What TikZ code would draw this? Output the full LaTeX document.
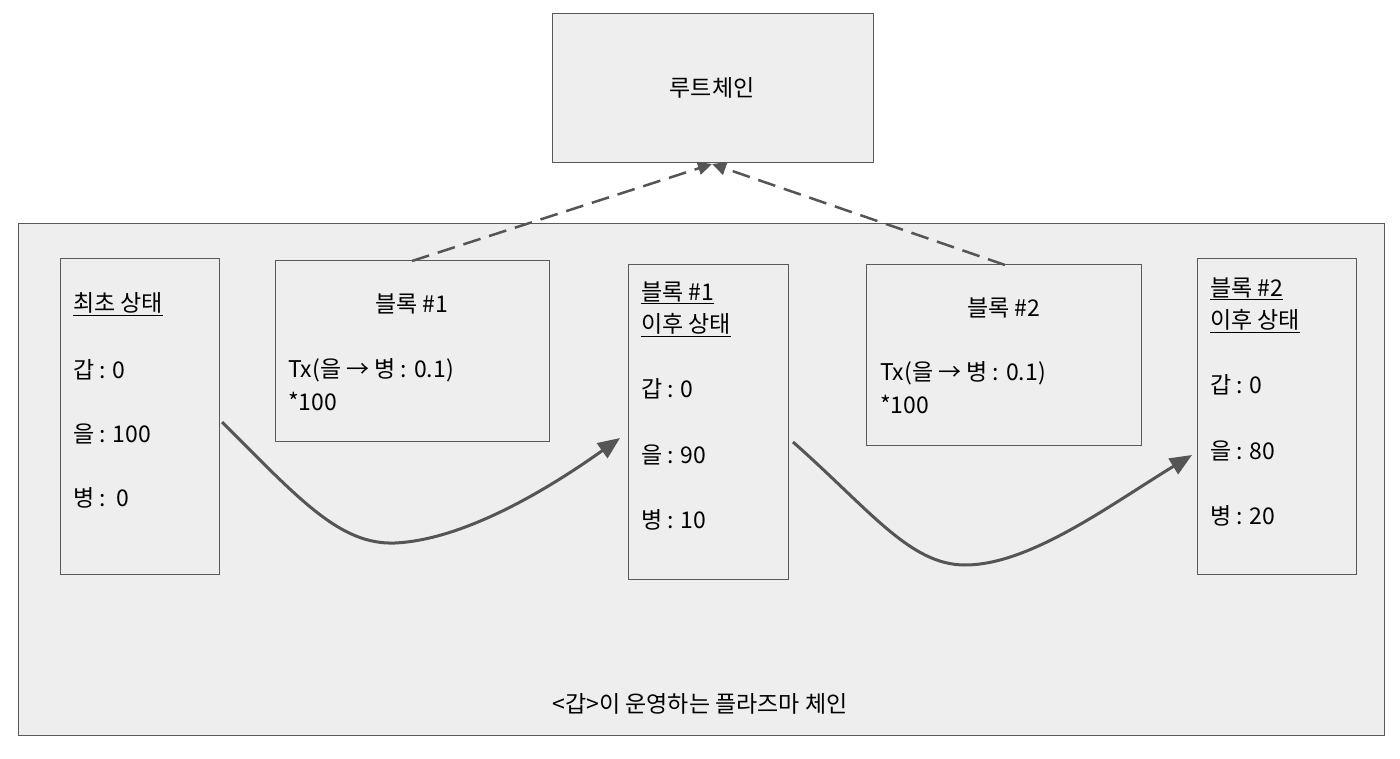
\documentclass[tikz,border=0pt]{standalone}
\usepackage{fontspec}
\setmainfont{Noto Sans CJK KR}
\usetikzlibrary{arrows.meta}
\definecolor{bg}{HTML}{EEEEEE}
\definecolor{ln}{HTML}{595959}
\definecolor{ar}{HTML}{555555}
\begin{document}
\begin{tikzpicture}[x=1pt,y=-1pt,
  box/.style={draw=ln,fill=bg,line width=1pt},
  t/.style={anchor=west,inner sep=0pt,font=\fontsize{23}{26}\selectfont},
  c/.style={inner sep=0pt,font=\fontsize{23}{26}\selectfont},
  dasharr/.style={draw=ar,line width=2.5pt,dash pattern=on 18pt off 9pt,-{Triangle[length=14pt,width=13pt]}},
  curve/.style={draw=ar,line width=3pt,-{Triangle[length=22pt,width=18pt]}}]
\useasboundingbox (0,0) rectangle (1400,759);
\draw[box] (18,224) rectangle (1384,735);
\node[c] (plasma) at (700,704) {<갑>이 운영하는 플라즈마 체인};
\draw[box] (552,14) rectangle (873,163);
\node[c] (root) at (712,88) {루트체인};
\coordinate (rootb) at (712,164);
% state 0
\draw[box] (60,259) rectangle (219,574);
\node[t] (s0a) at (73,304) {\underline{최초 상태}};
\node[t] (s0b) at (73,370) {갑 : 0};
\node[t] (s0c) at (73,434) {을 : 100};
\node[t] (s0d) at (73,498) {병 :\ \ 0};
% block 1
\draw[box] (275,261) rectangle (549,441);
\coordinate (b1t) at (412,261);
\node[c] (b1a) at (412,304) {블록 \#1};
\node[t] (b1b) at (288,370) {Tx(을 → 병 : 0.1)};
\node[t] (b1c) at (288,401) {*100};
% state 1
\draw[box] (628,265) rectangle (788,579);
\node[t] (s1a) at (641,293) {\underline{블록 \#1}};
\node[t] (s1b) at (641,325) {\underline{이후 상태}};
\node[t] (s1c) at (641,389) {갑 : 0};
\node[t] (s1d) at (641,455) {을 : 90};
\node[t] (s1e) at (641,520) {병 : 10};
% block 2
\draw[box] (866,265) rectangle (1141,445);
\coordinate (b2t) at (1005,265);
\node[c] (b2a) at (1004,308) {블록 \#2};
\node[t] (b2b) at (880,373) {Tx(을 → 병 : 0.1)};
\node[t] (b2c) at (880,404) {*100};
% state 2
\draw[box] (1197,259) rectangle (1356,574);
\node[t] (s2a) at (1210,289) {\underline{블록 \#2}};
\node[t] (s2b) at (1210,321) {\underline{이후 상태}};
\node[t] (s2c) at (1210,385) {갑 : 0};
\node[t] (s2d) at (1210,451) {을 : 80};
\node[t] (s2e) at (1210,516) {병 : 20};
% arrows
\draw[dasharr] (b1t) -- (rootb);
\draw[dasharr] (b2t) -- (rootb);
\coordinate (c1s) at (222,422);
\coordinate (c1e) at (620,438);
\coordinate (c2s) at (793,442);
\coordinate (c2e) at (1192,455);
\draw[curve] (c1s) .. controls (300,500) and (340,545) .. (395,543) .. controls (460,540) and (540,495) .. (c1e);
\draw[curve] (c2s) .. controls (870,510) and (910,565) .. (965,565) .. controls (1030,565) and (1110,505) .. (c2e);
\end{tikzpicture}
\end{document}
